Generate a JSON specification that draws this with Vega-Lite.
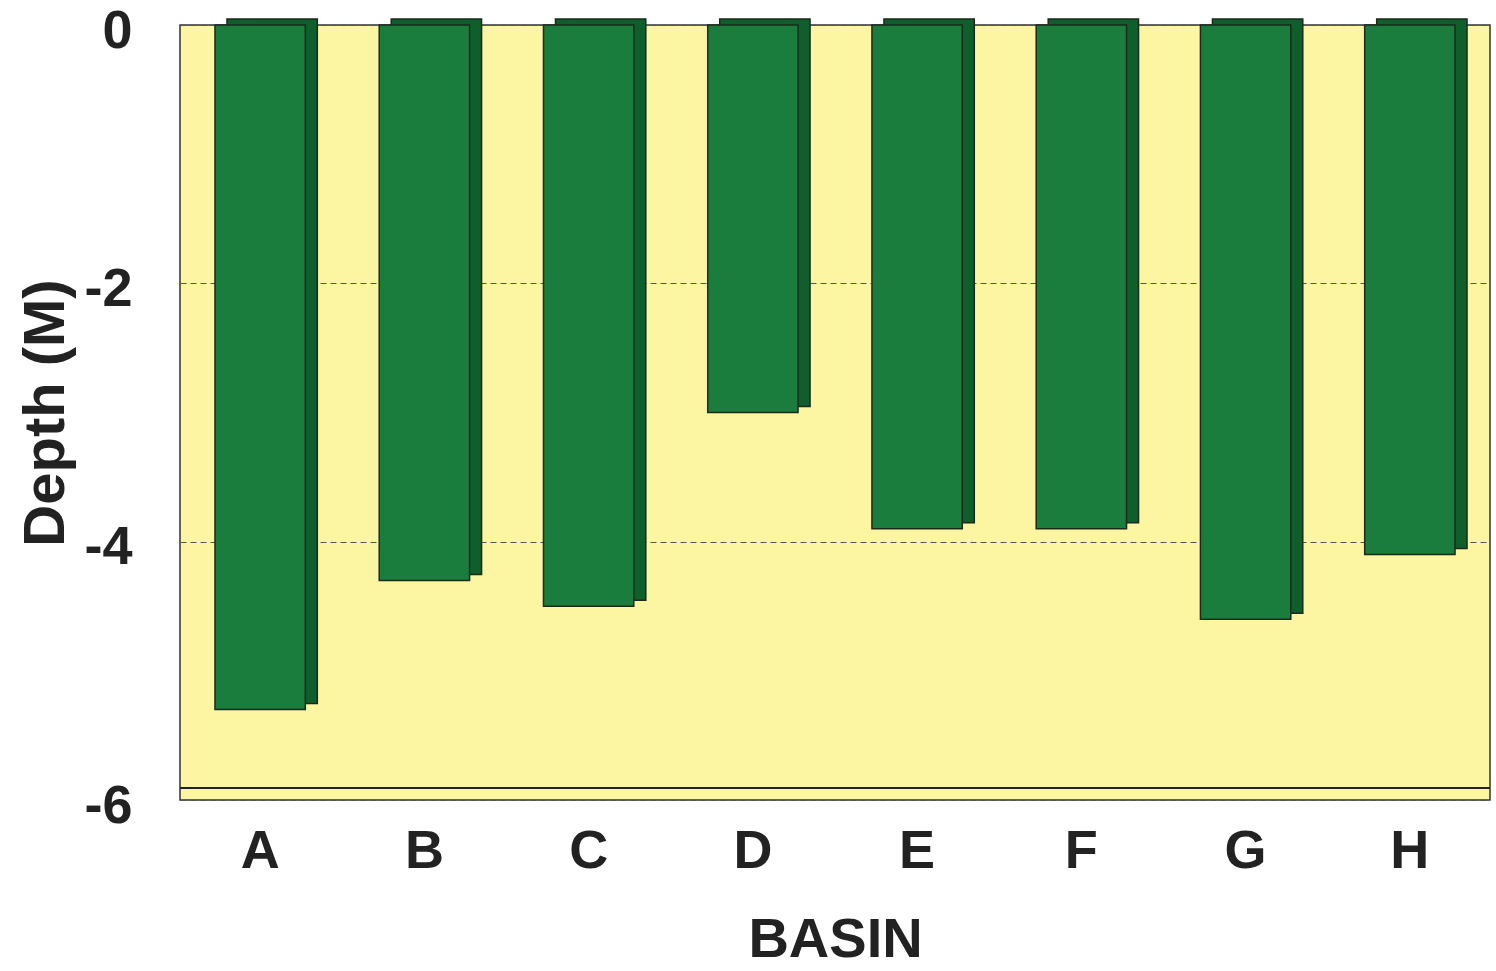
{
  "$schema": "https://vega.github.io/schema/vega-lite/v6.json",
  "autosize": "none",
  "width": 1310,
  "height": 775,
  "padding": {"left": 180, "top": 25, "right": 6, "bottom": 171},
  "background": "white",
  "config": {
    "view": {"fill": "#fcf5a2", "stroke": "#333333", "strokeWidth": 1.5},
    "font": "Liberation Sans"
  },
  "data": {
    "values": [
      {"basin": "A", "depth": -5.3},
      {"basin": "B", "depth": -4.3},
      {"basin": "C", "depth": -4.5},
      {"basin": "D", "depth": -3.0},
      {"basin": "E", "depth": -3.9},
      {"basin": "F", "depth": -3.9},
      {"basin": "G", "depth": -4.6},
      {"basin": "H", "depth": -4.1}
    ]
  },
  "encoding": {
    "x": {
      "field": "basin",
      "type": "nominal",
      "sort": null,
      "scale": {"paddingInner": 0.45, "paddingOuter": 0.213},
      "axis": {
        "title": "BASIN",
        "titleFontSize": 56,
        "titleFontWeight": "bold",
        "titleColor": "#222222",
        "titlePadding": 34,
        "labelFontSize": 54,
        "labelFontWeight": "bold",
        "labelColor": "#222222",
        "labelAngle": 0,
        "labelPadding": 24,
        "domain": false,
        "ticks": false
      }
    },
    "y": {
      "field": "depth",
      "type": "quantitative",
      "scale": {"domain": [-6, 0], "nice": false},
      "axis": {
        "title": "Depth (M)",
        "titleFontSize": 58,
        "titleFontWeight": "bold",
        "titleColor": "#222222",
        "titlePadding": 8,
        "labelFontSize": 54,
        "labelFontWeight": "bold",
        "labelColor": "#222222",
        "labelPadding": 48,
        "labelOffset": 6,
        "labelExpr": "'' + datum.value",
        "values": [0, -2, -4, -6],
        "domain": false,
        "ticks": false,
        "grid": true,
        "gridColor": "#555555",
        "gridDash": [6, 4],
        "gridWidth": 1
      }
    }
  },
  "layer": [
    {
      "mark": {"type": "rule", "color": "#222222", "strokeWidth": 2, "yOffset": -12},
      "encoding": {"x": null, "y": {"datum": -6}}
    },
    {
      "mark": {"type": "bar", "xOffset": 12, "yOffset": -6, "y2Offset": -6, "color": "#0f5f2c", "stroke": "#1b2a1b", "strokeWidth": 1.5},
      "encoding": {"y2": {"datum": 0}}
    },
    {
      "mark": {"type": "bar", "color": "#1a7d3e", "stroke": "#1b2a1b", "strokeWidth": 1.5},
      "encoding": {"y2": {"datum": 0}}
    }
  ]
}
